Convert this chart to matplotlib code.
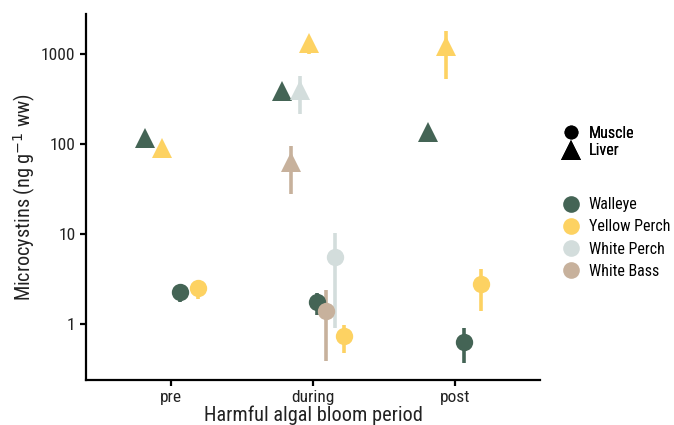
import matplotlib
matplotlib.use("Agg")
import matplotlib.pyplot as plt
from matplotlib import font_manager
from matplotlib.lines import Line2D
import numpy as np
import pandas as pd

# prefer a narrow sans face if one is installed
narrow = None
for f in font_manager.fontManager.ttflist:
    if f.name in ("Liberation Sans Narrow", "Roboto Condensed", "Open Sans Condensed"):
        narrow = f.name
        break
if narrow is None:
    for f in font_manager.fontManager.ttflist:
        if f.name == "DejaVu Sans" and "ondensed" in f.fname:
            plt.rcParams["font.stretch"] = "condensed"
            break
    plt.rcParams["font.family"] = ["DejaVu Sans"]
else:
    plt.rcParams["font.family"] = [narrow, "DejaVu Sans"]
plt.rcParams["font.weight"] = "normal"

periods = ["pre", "during", "post"]
tissues = ["Liver", "Muscle"]
species_order = ["Walleye", "White Bass", "White Perch", "Yellow Perch"]
legend_species = ["Walleye", "Yellow Perch", "White Perch", "White Bass"]
colors = {
    "Walleye": "#446455",
    "Yellow Perch": "#FDD262",
    "White Perch": "#D3DDDC",
    "White Bass": "#C7B19C",
}

period = ["pre", "pre", "pre", "pre",
          "during", "during", "during", "during", "during", "during", "during", "during",
          "post", "post", "post", "post"]
tissue = ["Liver", "Liver", "Muscle", "Muscle",
          "Liver", "Liver", "Liver", "Liver", "Muscle", "Muscle", "Muscle", "Muscle",
          "Liver", "Liver", "Muscle", "Muscle"]
species = ["Walleye", "Yellow Perch", "Walleye", "Yellow Perch",
           "Walleye", "White Bass", "White Perch", "Yellow Perch",
           "Walleye", "White Bass", "White Perch", "Yellow Perch",
           "Walleye", "Yellow Perch", "Walleye", "Yellow Perch"]
mc_mean = [118, 90, 2.27, 2.5,
           390, 63, 400, 1320, 1.75, 1.38, 5.6, 0.73,
           135, 1230, 0.63, 2.8]
mc_low = [100, 72, 1.75, 1.9,
          300, 28, 215, 1000, 1.26, 0.39, 0.9, 0.48,
          112, 530, 0.37, 1.4]
mc_high = [135, 100, 2.6, 2.9,
           450, 95, 570, 1500, 2.2, 2.4, 10.2, 0.97,
           150, 1800, 0.9, 4.1]

df = pd.DataFrame({"period": period, "tissue": tissue, "species": species,
                   "mean": mc_mean, "low": mc_low, "high": mc_high})

# dodge groups within each period (tissue, then species)
dodge_width = 0.5
df["t_ord"] = df["tissue"].map(tissues.index)
df["s_ord"] = df["species"].map(species_order.index)
df["x"] = 0.0
for i, p in enumerate(periods):
    sub = df[df["period"] == p].sort_values(["t_ord", "s_ord"])
    n = len(sub)
    offs = (np.arange(n) - (n - 1) / 2) * dodge_width / n
    df.loc[sub.index, "x"] = i + 1 + offs
df = df.sort_values(["t_ord", "s_ord", "period"])

fig = plt.figure(figsize=(6.74, 4.25), dpi=100)
ax = fig.add_axes([0.1276, 0.1059, 0.8010 - 0.1276, 0.967 - 0.1059])

for _, r in df.iterrows():
    c = colors[r["species"]]
    ax.vlines(r["x"], r["low"], r["high"], color=c, linewidth=2.6, zorder=2)
    if r["tissue"] == "Muscle":
        ax.plot(r["x"], r["mean"], "o", color=c, markersize=12.5,
                markeredgewidth=0, zorder=3)
    else:
        ax.plot(r["x"], r["mean"], "^", color=c, markersize=14,
                markeredgewidth=0, zorder=3)

ax.set_yscale("log")
ax.set_ylim(0.239, 2780)
ax.set_xlim(0.4, 3.6)
ax.set_yticks([1, 10, 100, 1000])
ax.set_yticklabels(["1", "10", "100", "1000"])
ax.yaxis.set_minor_locator(matplotlib.ticker.NullLocator())
ax.set_xticks([1, 2, 3])
ax.set_xticklabels(periods)

for s in ["top", "right"]:
    ax.spines[s].set_visible(False)
for s in ["left", "bottom"]:
    ax.spines[s].set_linewidth(1.6)
ax.tick_params(axis="both", length=4, width=1.6, labelsize=12.5, colors="black",
               labelcolor="#222222")

ax.set_xlabel("Harmful algal bloom period", fontsize=14.6, color="#222222", labelpad=0)
ax.set_ylabel("Microcystins (ng g$^{-1}$ ww)", fontsize=14.6, color="#222222", labelpad=2)

shape_handles = [
    Line2D([], [], marker="o", linestyle="none", color="black", markersize=10, markeredgewidth=0),
    Line2D([], [], marker="^", linestyle="none", color="black", markersize=14, markeredgewidth=0),
]
leg1 = fig.legend(shape_handles, tissues[::-1], loc="upper left",
                  bbox_to_anchor=(0.812, 0.738), frameon=False, fontsize=11.5,
                  handletextpad=0.5, labelspacing=0.15, handlelength=1.2)
fig.add_artist(leg1)

color_handles = [
    Line2D([], [], marker="o", linestyle="none", color=colors[s], markersize=12, markeredgewidth=0)
    for s in legend_species
]
fig.legend(color_handles, legend_species, loc="upper left",
           bbox_to_anchor=(0.812, 0.57), frameon=False, fontsize=11.5,
           handletextpad=0.5, labelspacing=0.45, handlelength=1.2)

fig.savefig("out.png", dpi=100)
